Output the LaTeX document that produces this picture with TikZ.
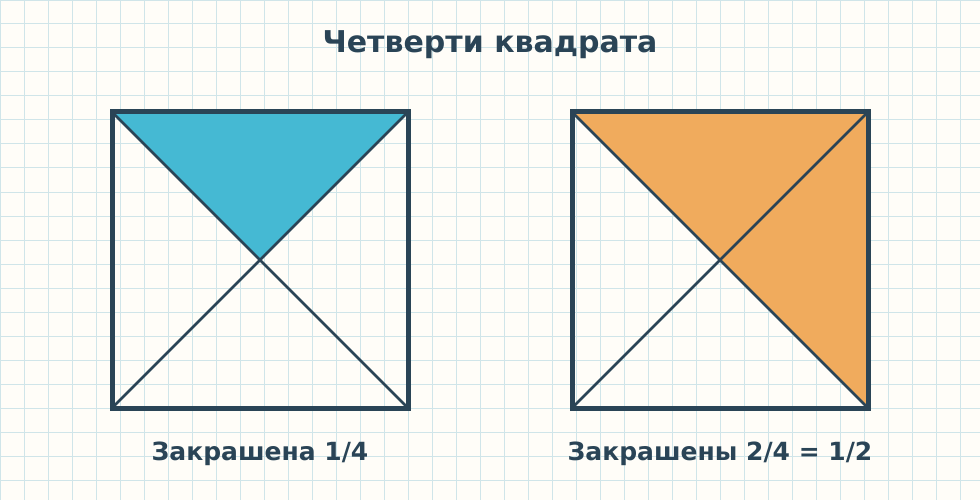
\documentclass[tikz,border=0pt]{standalone}
\usepackage{fontspec}
\setmainfont{DejaVu Sans}
\usepackage{xcolor}
\definecolor{paperBg}{HTML}{FFFDF8}
\definecolor{gridBlue}{HTML}{D0E5E9}
\definecolor{inkNavy}{HTML}{2A4456}
\definecolor{fillBlue}{HTML}{45B9D3}
\definecolor{fillOrange}{HTML}{F0AB5D}
\usetikzlibrary{calc}

\begin{document}
\begin{tikzpicture}[x=1pt, y=-1pt, every node/.style={inner sep=0pt, text=inkNavy, font=\bfseries}]
  \useasboundingbox (0,0) rectangle (980,500);
  \fill[paperBg] (0,0) rectangle (980,500);
  \draw[gridBlue, line width=1pt, step=24pt] (0,0) grid (980,500);
  % left square
  \coordinate (A1) at (112,112);
  \coordinate (B1) at (408,112);
  \coordinate (C1) at (408,408);
  \coordinate (D1) at (112,408);
  \coordinate (M1) at (260,260);
  \filldraw[fill=fillBlue, draw=none] (A1) -- (B1) -- (M1) -- cycle;
  \draw[inkNavy, line width=2.8pt] (A1) -- (C1) (B1) -- (D1);
  \draw[inkNavy, line width=5pt, line join=miter] (A1) rectangle (C1);
  % right square
  \coordinate (A2) at (572,112);
  \coordinate (B2) at (868,112);
  \coordinate (C2) at (868,408);
  \coordinate (D2) at (572,408);
  \coordinate (M2) at (720,260);
  \filldraw[fill=fillOrange, draw=none] (A2) -- (B2) -- (C2) -- (M2) -- cycle;
  \draw[inkNavy, line width=2.8pt] (A2) -- (C2) (B2) -- (D2);
  \draw[inkNavy, line width=5pt, line join=miter] (A2) rectangle (C2);
  % texts
  \node[font=\bfseries\fontsize{30}{34}\selectfont] (title) at (490,45) {Четверти квадрата};
  \node[font=\bfseries\fontsize{25}{29}\selectfont] (left) at (260,454) {Закрашена 1/4};
  \node[font=\bfseries\fontsize{25}{29}\selectfont] (right) at (720,454) {Закрашены 2/4 = 1/2};
\end{tikzpicture}
\end{document}
